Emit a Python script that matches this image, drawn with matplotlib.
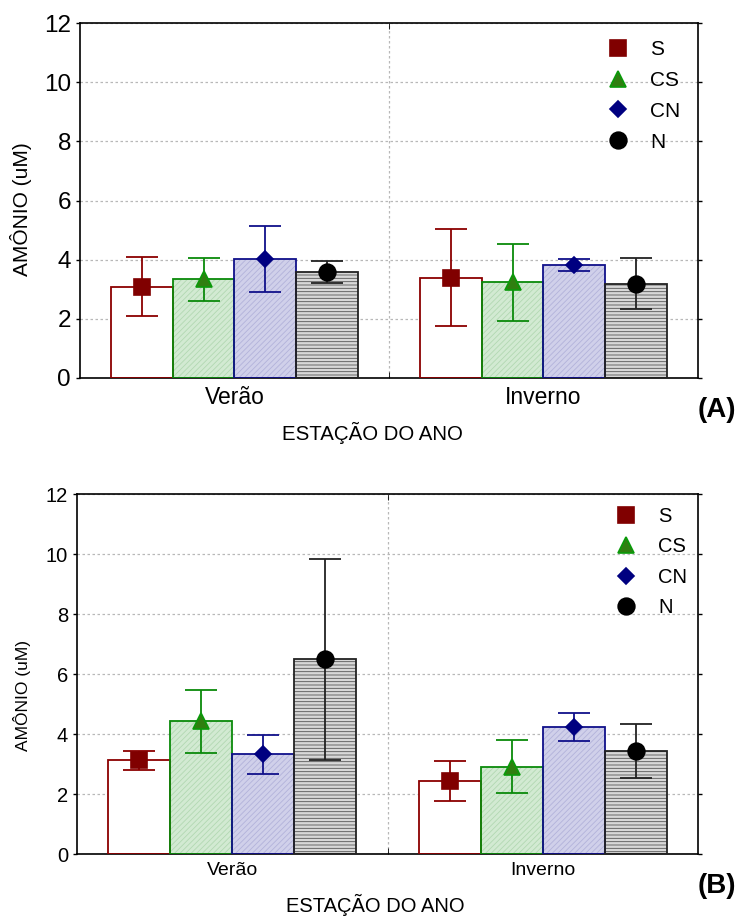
import numpy as np
import matplotlib
matplotlib.use("Agg")
import matplotlib.pyplot as plt
from matplotlib.lines import Line2D

plt.rcParams['font.family'] = ['Liberation Sans', 'DejaVu Sans']
plt.rcParams['hatch.linewidth'] = 0.6

estacoes = ['Verão', 'Inverno']
series = ['S', 'CS', 'CN', 'N']

# (A) medias e desvios por estacao, na ordem S, CS, CN, N
media_a_verao = [3.08, 3.33, 4.03, 3.59]
erro_a_verao = [1.00, 0.74, 1.12, 0.38]
media_a_inverno = [3.39, 3.23, 3.83, 3.19]
erro_a_inverno = [1.63, 1.31, 0.20, 0.85]

# (B)
media_b_verao = [3.12, 4.43, 3.32, 6.50]
erro_b_verao = [0.33, 1.05, 0.65, 3.35]
media_b_inverno = [2.44, 2.91, 4.24, 3.42]
erro_b_inverno = [0.67, 0.88, 0.47, 0.90]

yticks = [0, 2, 4, 6, 8, 10, 12]

# estilo de cada serie: face, cor da hachura, hachura, borda, marcador
estilo = {
    'S':  dict(face='white', hcol='white', hatch=None, edge='#8b0000',
               mk='s', mface='#800000', medge='#800000', ms=11),
    'CS': dict(face='#d2ead2', hcol='#b2d8b2', hatch='//////', edge='#0a8a0a',
               mk='^', mface='#2f7f10', medge='#0a9a0a', ms=11),
    'CN': dict(face='#d0d0ea', hcol='#b2b2da', hatch='//////', edge='#10108a',
               mk='D', mface='#000080', medge='#000080', ms=8.5),
    'N':  dict(face='#d8d8d8', hcol='#555555', hatch='-----', edge='#222222',
               mk='o', mface='black', medge='black', ms=12),
}

fig = plt.figure(figsize=(7.37, 9.16), dpi=100)
ax_a = fig.add_axes([80 / 737, 1 - 378 / 916, 618 / 737, 355 / 916])
ax_b = fig.add_axes([77 / 737, 1 - 854 / 916, 621 / 737, 360 / 916])


def painel(ax, medias, erros, fs):
    w = 0.2
    for i, s in enumerate(series):
        st = estilo[s]
        x = np.arange(len(estacoes)) + (i - 1.5) * w
        m = [medias[0][i], medias[1][i]]
        e = [erros[0][i], erros[1][i]]
        ax.bar(x, m, w, color=st['face'], edgecolor=st['hcol'], hatch=st['hatch'],
               linewidth=0, zorder=2)
        ax.bar(x, m, w, fill=False, edgecolor=st['edge'], linewidth=1.3, zorder=3)
        ax.errorbar(x, m, yerr=e, fmt='none', ecolor=st['edge'], elinewidth=1.3,
                    capsize=11.5, capthick=1.3, zorder=4)
        ax.plot(x, m, linestyle='none', marker=st['mk'], markersize=st['ms'],
                markerfacecolor=st['mface'], markeredgecolor=st['medge'],
                markeredgewidth=1.2, zorder=5)

    ax.set_xlim(-0.5, 1.5)
    ax.set_ylim(0, 12)
    ax.set_yticks(yticks)
    ax.set_xticks([0, 1])
    ax.set_xticklabels(estacoes, fontsize=fs['cat'])
    ax.set_xticks([0.5], minor=True)
    ax.tick_params(axis='x', which='major', length=0, pad=6)
    ax.tick_params(axis='x', which='minor', direction='in', length=4, top=True, bottom=True)
    ax.tick_params(axis='y', labelsize=fs['tick'], direction='out', length=3, width=1)
    ax.tick_params(axis='y', which='major', right=True)
    for sp in ax.spines.values():
        sp.set_linewidth(1.2)

    ax.grid(True, which='major', axis='y', linestyle=(0, (2, 2)), color='#b8b8b8',
            linewidth=0.9, zorder=0)
    ax.grid(True, which='minor', axis='x', linestyle=(0, (2, 2)), color='#b8b8b8',
            linewidth=0.9, zorder=0)
    ax.set_axisbelow(True)

    ax.set_ylabel('AMÔNIO (uM)', fontsize=fs['ylab'])
    ax.yaxis.set_label_coords(*fs['ypos'])
    ax.set_xlabel('ESTAÇÃO DO ANO', fontsize=fs['xlab'])
    ax.xaxis.set_label_coords(*fs['xpos'])

    handles = [Line2D([], [], linestyle='none', marker=estilo[s]['mk'],
                      markersize=estilo[s]['ms'], markerfacecolor=estilo[s]['mface'],
                      markeredgecolor=estilo[s]['medge'], markeredgewidth=1.2)
               for s in series]
    ax.legend(handles, series, loc='upper left', bbox_to_anchor=fs['leg'],
              frameon=False, fontsize=fs['legfs'], handlelength=1.2,
              handletextpad=fs['htp'], labelspacing=0.57, borderaxespad=0,
              borderpad=0)


painel(ax_a, [media_a_verao, media_a_inverno], [erro_a_verao, erro_a_inverno],
       dict(tick=17.5, cat=16.5, ylab=15, xlab=14.7, legfs=15, htp=0.94,
            ypos=(-0.078, 0.477), xpos=(0.474, -0.125), leg=(0.85, 0.952)))
painel(ax_b, [media_b_verao, media_b_inverno], [erro_b_verao, erro_b_inverno],
       dict(tick=14.5, cat=14, ylab=12.5, xlab=14.5, legfs=14.5, htp=0.99,
            ypos=(-0.074, 0.44), xpos=(0.48, -0.112), leg=(0.865, 0.964)))

fig.text(0.999, 1 - 410 / 916, '(A)', ha='right', va='center', fontsize=20,
         fontweight='bold')
fig.text(0.999, 1 - 886 / 916, '(B)', ha='right', va='center', fontsize=20,
         fontweight='bold')

fig.savefig('out.png', dpi=100)
